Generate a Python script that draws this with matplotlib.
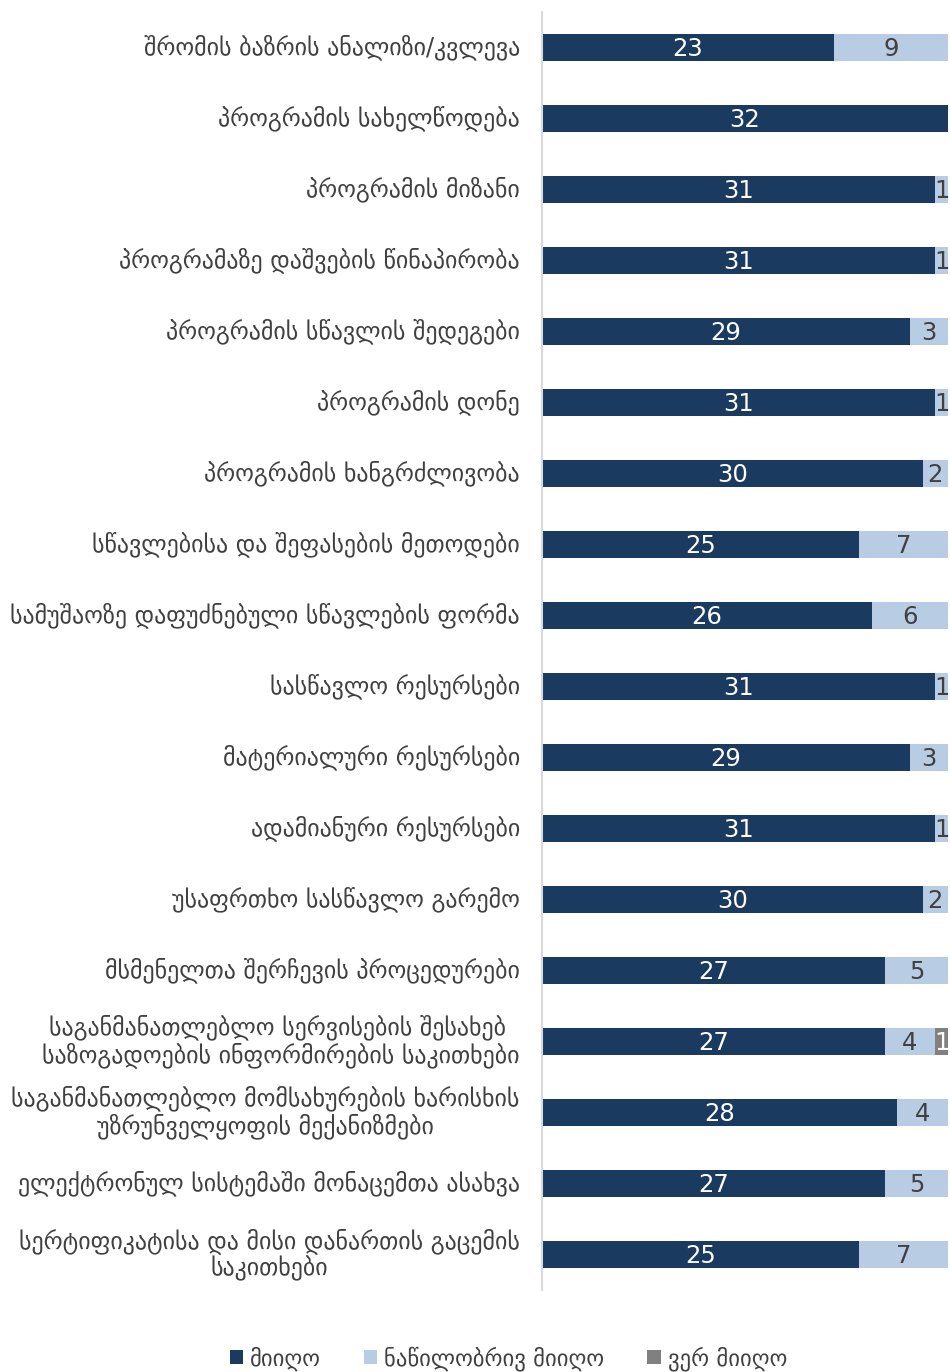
import numpy as np
import matplotlib.pyplot as plt

# კატეგორიები (ზემოდან ქვემოთ)
categories = [
    'შრომის ბაზრის ანალიზი/კვლევა',
    'პროგრამის სახელწოდება',
    'პროგრამის მიზანი',
    'პროგრამაზე დაშვების წინაპირობა',
    'პროგრამის სწავლის შედეგები',
    'პროგრამის დონე',
    'პროგრამის ხანგრძლივობა',
    'სწავლებისა და შეფასების მეთოდები',
    'სამუშაოზე დაფუძნებული სწავლების ფორმა',
    'სასწავლო რესურსები',
    'მატერიალური რესურსები',
    'ადამიანური რესურსები',
    'უსაფრთხო სასწავლო გარემო',
    'მსმენელთა შერჩევის პროცედურები',
    'საგანმანათლებლო სერვისების შესახებ \nსაზოგადოების ინფორმირების საკითხები',
    'საგანმანათლებლო მომსახურების ხარისხის\nუზრუნველყოფის მექანიზმები',
    'ელექტრონულ სისტემაში მონაცემთა ასახვა',
    'სერტიფიკატისა და მისი დანართის გაცემის\nსაკითხები',
]
received = [23, 32, 31, 31, 29, 31, 30, 25, 26, 31, 29, 31, 30, 27, 27, 28, 27, 25]
partial = [9, 0, 1, 1, 3, 1, 2, 7, 6, 1, 3, 1, 2, 5, 4, 4, 5, 7]
not_received = [0, 0, 0, 0, 0, 0, 0, 0, 0, 0, 0, 0, 0, 0, 1, 0, 0, 0]
series_names = ['მიიღო', 'ნაწილობრივ მიიღო', 'ვერ მიიღო']

colors = ['#1B3A5F', '#B8CCE4', '#808080']
text_colors = ['white', '#404040', 'white']

fig = plt.figure(figsize=(9.5, 13.72), dpi=100)
ax = fig.add_axes([0.5705, 0.0598, 0.4275, 0.9315])

y = np.arange(len(categories))
left = np.zeros(len(categories))
for vals, c, tc, name in zip([received, partial, not_received], colors, text_colors, series_names):
    vals = np.array(vals)
    ax.barh(y, vals, left=left, height=0.39, color=c, label=name)
    for yi, l, v in zip(y, left, vals):
        if v > 0:
            ax.text(l + v / 2, yi + 0.02, str(v), ha='center', va='center',
                    color=tc, fontsize=17.5)
    left += vals

ax.set_xlim(0, 32)
ax.set_ylim(len(categories) - 0.5, -0.5)
ax.set_yticks(y)
ax.set_yticklabels(categories, fontsize=17.2, color='#404040',
                   multialignment='center', linespacing=1.1, va='center')
ax.tick_params(axis='y', length=0, pad=16)
for lbl in ax.get_yticklabels():
    lbl.set_y(lbl.get_position()[1])
ax.set_xticks([])
for s in ['top', 'right', 'bottom']:
    ax.spines[s].set_visible(False)
ax.spines['left'].set_color('#D9D9D9')
ax.spines['left'].set_linewidth(1.5)

fig.legend(loc='lower center', bbox_to_anchor=(0.535, -0.014), ncol=3, frameon=False,
           fontsize=16.3, handlelength=0.6, handleheight=0.6, handletextpad=0.3,
           columnspacing=1.9, labelcolor='#404040')

fig.savefig('out.png', dpi=100)
